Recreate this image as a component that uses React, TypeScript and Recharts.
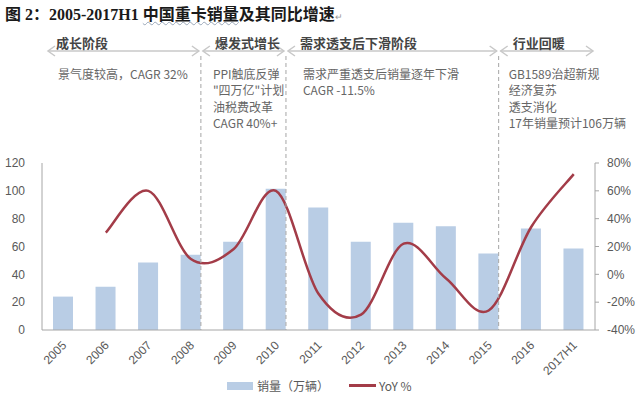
import {
  ComposedChart, Bar, Line, XAxis, YAxis, Legend
} from "recharts"

const years = ["2005", "2006", "2007", "2008", "2009", "2010", "2011", "2012", "2013", "2014", "2015", "2016", "2017H1"]
const sales = [24, 31, 48.5, 54, 63.5, 101.5, 88, 63.5, 77, 74.5, 55, 73, 58.5]
const yoy: (number | null)[] = [null, 30, 60, 11, 18, 60, -14, -29, 22, -3, -26, 34, 72]

const salesTicks = [0, 20, 40, 60, 80, 100, 120]
const yoyTicks = [-40, -20, 0, 20, 40, 60, 80]

const stageTitles = ["成长阶段", "爆发式增长", "需求透支后下滑阶段", "行业回暖"]
const stageNotes = [
  ["景气度较高，CAGR 32%"],
  ["PPI触底反弹", "\"四万亿\"计划", "油税费改革", "CAGR 40%+"],
  ["需求严重透支后销量逐年下滑", "CAGR -11.5%"],
  ["GB1589治超新规", "经济复苏", "透支消化", "17年销量预计106万辆"],
]
// stage boundaries sit after these years
const stageEnds = ["2008", "2010", "2015"]

const W = 640
const H = 395
const PLOT_LEFT = 42
const PLOT_RIGHT = 595
const PLOT_TOP = 163
const PLOT_BOTTOM = 330
const BAR_SIZE = 20
const BAND = (PLOT_RIGHT - PLOT_LEFT) / years.length
const noteOffsets = [16, 12, 17, 10]

const TICK_FONT = "'Liberation Sans', 'Noto Sans CJK SC', sans-serif"
const CJK_FONT = "'Noto Sans CJK SC', sans-serif"
const SERIF = "'Liberation Serif', serif"
const GREY = "#595959"

const rows = years.map((year, i) => ({ year, sales: sales[i], yoy: yoy[i] }))

// Excel-style smoothed line (Catmull-Rom through the points)
function smoothCurve(context: any) {
  let pts: number[][] = []
  return {
    areaStart() {},
    areaEnd() {},
    lineStart() { pts = [] },
    point(x: number, y: number) { pts.push([+x, +y]) },
    lineEnd() {
      if (!pts.length) return
      context.moveTo(pts[0][0], pts[0][1])
      for (let i = 0; i < pts.length - 1; i++) {
        const p0 = pts[i - 1] ?? pts[i]
        const p1 = pts[i]
        const p2 = pts[i + 1]
        const p3 = pts[i + 2] ?? p2
        context.bezierCurveTo(
          p1[0] + (p2[0] - p0[0]) / 6, p1[1] + (p2[1] - p0[1]) / 6,
          p2[0] - (p3[0] - p1[0]) / 6, p2[1] - (p3[1] - p1[1]) / 6,
          p2[0], p2[1]
        )
      }
    },
  }
}

function YearTick({ x, y, payload }: any) {
  return (
    <g transform={`translate(${x + 4},${y + 16})`}>
      <text textAnchor="end" transform="rotate(-45)" fill={GREY} fontSize={12} fontFamily={TICK_FONT}>
        {payload.value}
      </text>
    </g>
  )
}

function renderLegend({ payload }: any) {
  // bars first, like the original
  const items = [...(payload ?? [])].sort((a: any, b: any) => (a.type === "rect" ? -1 : 0) - (b.type === "rect" ? -1 : 0))
  return (
    <div style={{ display: "flex", alignItems: "center", fontSize: 12, color: GREY, fontFamily: CJK_FONT, whiteSpace: "nowrap" }}>
      {items.map((item: any) => (
        <div key={item.value} style={{ display: "flex", alignItems: "center", marginRight: 20 }}>
          {item.type === "rect" ? (
            <span style={{ display: "inline-block", width: 26, height: 8, background: item.color, marginRight: 4 }} />
          ) : (
            <span style={{ display: "inline-block", width: 27, height: 2.5, background: item.color, marginRight: 3 }} />
          )}
          <span>{item.value}</span>
        </div>
      ))}
    </div>
  )
}

export default function App() {
  const dividers = stageEnds.map((y) => PLOT_LEFT + (years.indexOf(y) + 0.5) * BAND + BAR_SIZE / 2)
  const starts = [PLOT_LEFT, ...dividers]
  const ends = [...dividers, PLOT_RIGHT]
  const arrowY = 51

  return (
    <div style={{ position: "absolute", left: 0, top: 0, width: W, height: H, background: "#fff" }}>
      <ComposedChart width={W} height={H} data={rows} margin={{ top: PLOT_TOP, right: 0, bottom: H - PLOT_BOTTOM - 45, left: 8 }}>
        <XAxis
          dataKey="year"
          interval={0}
          height={45}
          tickLine={false}
          tickSize={0}
          tickMargin={0}
          tick={<YearTick />}
          axisLine={{ stroke: "#a6a6a6" }}
        />
        <YAxis
          yAxisId="left"
          width={34}
          domain={[0, 120]}
          ticks={salesTicks}
          tickLine={false}
          tickSize={0}
          tickMargin={17}
          axisLine={{ stroke: "#a6a6a6" }}
          tick={{ fill: GREY, fontSize: 12, fontFamily: TICK_FONT }}
        />
        <YAxis
          yAxisId="right"
          orientation="right"
          width={45}
          domain={[-40, 80]}
          ticks={yoyTicks}
          tickFormatter={(v: number) => `${v}%`}
          tickSize={4}
          tickMargin={8}
          tickLine={{ stroke: "#a6a6a6" }}
          axisLine={{ stroke: "#a6a6a6" }}
          tick={{ fill: GREY, fontSize: 12, fontFamily: TICK_FONT }}
        />
        <Bar yAxisId="left" dataKey="sales" name="销量（万辆）" fill="#b9cde5" barSize={BAR_SIZE} isAnimationActive={false} />
        <Line
          yAxisId="right"
          dataKey="yoy"
          name="YoY %"
          type={smoothCurve as any}
          stroke="#a33c48"
          strokeWidth={2.5}
          dot={false}
          activeDot={false}
          isAnimationActive={false}
        />
        <Legend
          content={renderLegend}
          layout="horizontal"
          verticalAlign="middle"
          align="center"
          wrapperStyle={{ position: "absolute", top: 377, left: 227, width: 260, height: 16 }}
        />
      </ComposedChart>

      <svg width={W} height={H} style={{ position: "absolute", left: 0, top: 0, pointerEvents: "none" }}>
        {dividers.map((x) => (
          <line key={x} x1={x} x2={x} y1={56} y2={PLOT_BOTTOM} stroke="#a6a6a6" strokeDasharray="4 3" />
        ))}
        {starts.map((s, i) => {
          const x1 = s + (i === 0 ? 6 : 2)
          const x2 = ends[i] - 2
          return (
            <g key={i} stroke="#c8c8c8" strokeWidth={1.5} fill="none">
              <line x1={x1} x2={x2} y1={arrowY} y2={arrowY} />
              <path d={`M${x1 + 7},${arrowY - 5} L${x1},${arrowY} L${x1 + 7},${arrowY + 5}`} />
              <path d={`M${x2 - 7},${arrowY - 5} L${x2},${arrowY} L${x2 - 7},${arrowY + 5}`} />
            </g>
          )
        })}
      </svg>

      <div style={{ position: "absolute", left: 5, top: 1, fontWeight: 700, color: "#1a1a1a", whiteSpace: "nowrap", lineHeight: "24px", fontSize: 16 }}>
        <span style={{ fontFamily: CJK_FONT }}>图</span>
        <span style={{ fontFamily: SERIF }}> 2</span>
        <span style={{ fontFamily: CJK_FONT }}>：</span>
        <span style={{ fontFamily: SERIF }}>2005-2017H1 </span>
        <span style={{ fontFamily: CJK_FONT }}>
          <span style={{ textDecoration: "underline wavy #9aa7b8", textDecorationThickness: 1 }}>中国重卡销量</span>及其同比增速
        </span>
        <span style={{ fontFamily: TICK_FONT, fontSize: 9, fontWeight: 400, color: "#999" }}>↵</span>
      </div>

      {stageTitles.map((t, i) => (
        <div
          key={t}
          style={{ position: "absolute", left: starts[i] + 14, top: 35, fontFamily: CJK_FONT, fontSize: 13, fontWeight: 700, color: "#444", lineHeight: "16px", whiteSpace: "nowrap" }}
        >
          {t}
        </div>
      ))}
      {stageNotes.map((lines, i) => (
        <div
          key={i}
          style={{ position: "absolute", left: starts[i] + noteOffsets[i], top: 66, fontFamily: CJK_FONT, fontSize: 12, color: "#666", lineHeight: "16.4px", whiteSpace: "nowrap" }}
        >
          {lines.map((l) => <div key={l}>{l}</div>)}
        </div>
      ))}
    </div>
  )
}
